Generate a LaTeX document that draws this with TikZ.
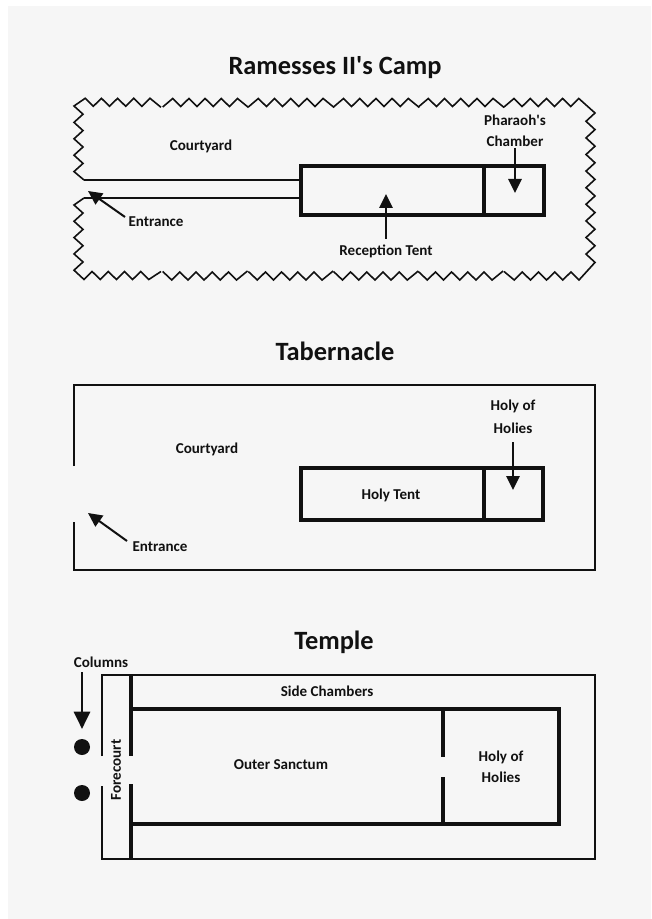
\documentclass[tikz,border=0pt]{standalone}
\usepackage{fontspec}
\setmainfont[Ligatures=TeXOff]{Carlito}
\usetikzlibrary{arrows.meta}
\definecolor{paper}{HTML}{F6F6F6}
\definecolor{ink}{HTML}{111111}
\tikzset{
  lbl/.style={font=\bfseries\fontsize{11.3}{13}\selectfont,text=ink,inner sep=0pt,align=center},
  ttl/.style={font=\bfseries\fontsize{19.8}{22}\selectfont,text=ink,inner sep=0pt},
  thin wall/.style={draw=ink,line width=1.2pt,line cap=butt},
  thick wall/.style={draw=ink,line width=2.4pt,line cap=butt},
  heavy wall/.style={draw=ink,line width=3.6pt,line cap=butt},
  mid wall/.style={draw=ink,line width=2.6pt,line cap=butt},
  zig/.style={draw=ink,line width=1.2pt,line join=miter},
  pointer/.style={draw=ink,line width=1.5pt,-{Triangle[length=10.5pt,width=10pt]}},
  bigpointer/.style={draw=ink,line width=2.2pt,-{Triangle[length=13pt,width=12pt]}},
  column/.style={circle,fill=ink,inner sep=0pt,outer sep=0pt,minimum size=12pt},
  tentbox/.style={draw=ink,line width=2.4pt,inner sep=0pt,outer sep=0pt,anchor=north west}
}
\begin{document}
\begin{tikzpicture}[x=0.75pt,y=-0.75pt]
\useasboundingbox (0,0) rectangle (651,919);
\fill[white] (0,0) rectangle (651,919);
\fill[paper] (8,6) rectangle (651,919);
% ---- titles
\node[ttl] (t1) at (335,68) {Ramesses II's Camp};
\node[ttl] (t2) at (335,351) {Tabernacle};
\node[ttl] (t3) at (334,642) {Temple};
% ---- camp: zigzag fence
\foreach \s in {162.7,248.3,333.5,418.3}{
  \draw[zig] (\s,107) -- ++(10,-8.5)
    \foreach \k in {1,2,3,4}{ -- ++(8.1,8) -- ++(8.1,-8) } -- ++(11,9);
  \draw[zig] (\s,271.5) -- ++(9,8.5)
    \foreach \k in {1,2,3,4}{ -- ++(8.1,-8) -- ++(8.1,8) } -- ++(11,-9);
}
\draw[zig] (161,107.3) -- ++(-11,-9) \foreach \k in {1,2,3,4}{ -- ++(-8.1,8) -- ++(-8.1,-8) } -- (74,106)
  \foreach \k in {1,2,3,4}{ -- ++(9,8.2) -- ++(-9,8.2) } -- (84,180);
\draw[zig] (84,198) -- (74,205) \foreach \k in {1,2,3,4}{ -- ++(9,8.1) -- ++(-9,8.2) } -- (84,279.5)
  \foreach \k in {1,2,3,4}{ -- ++(8.1,-8) -- ++(8.1,8) } -- (161,271.5);
\draw[zig] (504,107) -- ++(10,-8.5) \foreach \k in {1,2,3,4}{ -- ++(8.1,8) -- ++(8.1,-8) } -- (595,113)
  \foreach \k in {1,...,9}{ -- ++(-9,8.3) -- ++(9,8.3) } -- (579,280)
  \foreach \k in {1,2,3,4}{ -- ++(-8.1,-8) -- ++(-8.1,8) } -- (504,271.5);
% ---- camp: tent
\coordinate (c1a) at (301,180);
\coordinate (c1b) at (301,198);
\draw[thin wall] (84,180) -- (c1a);
\draw[thin wall] (84,198) -- (c1b);
\node[tentbox,minimum width=182.25pt,minimum height=36.75pt] (tent1) at (301,166) {};
\coordinate (d1a) at (484,166);
\coordinate (d1b) at (484,215);
\draw[heavy wall] ([yshift=0.9pt]d1a) -- ([yshift=-0.9pt]d1b);
\node[lbl] (court1) at (201,146) {Courtyard};
\node[lbl] (ent1) at (156,222) {Entrance};
\node[lbl] (rec) at (386,251) {Reception Tent};
\node[lbl] (ph1) at (515,120.5) {Pharaoh's};
\node[lbl] (ph2) at (515,141) {Chamber};
\coordinate (a1) at (88,191);
\coordinate (a2) at (386,194);
\coordinate (a3) at (515,193);
\draw[pointer] (125,217) -- (a1);
\draw[pointer] (386,239) -- (a2);
\draw[pointer] (515,148) -- (a3);
% ---- tabernacle
\draw[thin wall] (74,466) -- (74,385) -- (595,385) -- (595,570) -- (74,570) -- (74,522);
\node[tentbox,minimum width=181.5pt,minimum height=39pt] (tent2) at (301,468) {};
\coordinate (d2a) at (484,468);
\coordinate (d2b) at (484,520);
\draw[mid wall] ([yshift=0.9pt]d2a) -- ([yshift=-0.9pt]d2b);
\node[lbl] (court2) at (207,449) {Courtyard};
\node[lbl] (holy) at (391,495) {Holy Tent};
\node[lbl] (ent2) at (160,547) {Entrance};
\node[lbl] (ho1) at (513,406.5) {Holy of};
\node[lbl] (ho2) at (513,428) {Holies};
\coordinate (a4) at (88,513);
\coordinate (a5) at (513,490);
\draw[pointer] (127,541) -- (a4);
\draw[pointer] (513,442) -- (a5);
% ---- temple
\draw[thin wall] (102,756) -- (102,675) -- (595,675) -- (595,859) -- (102,859) -- (102,786);
\draw[thick wall] (131,675) -- (131,756);
\draw[thick wall] (131,784) -- (131,859);
\draw[thick wall] (131,709) -- (559,709) -- (559,824) -- (131,824);
\draw[thick wall] (443,709) -- (443,757);
\draw[thick wall] (443,777) -- (443,824);
\node[lbl] (col) at (101,662) {Columns};
\node[lbl] (side) at (327,691) {Side Chambers};
\node[lbl] (outer) at (281,765) {Outer Sanctum};
\node[lbl,rotate=90] (fore) at (116,770) {Forecourt};
\node[lbl] (hh1) at (501,757) {Holy of};
\node[lbl] (hh2) at (501,777) {Holies};
\node[column] (c1) at (82,747) {};
\node[column] (c2) at (82,793) {};
\coordinate (a6) at (82,729);
\draw[bigpointer] (82,672) -- (a6);
\end{tikzpicture}
\end{document}
